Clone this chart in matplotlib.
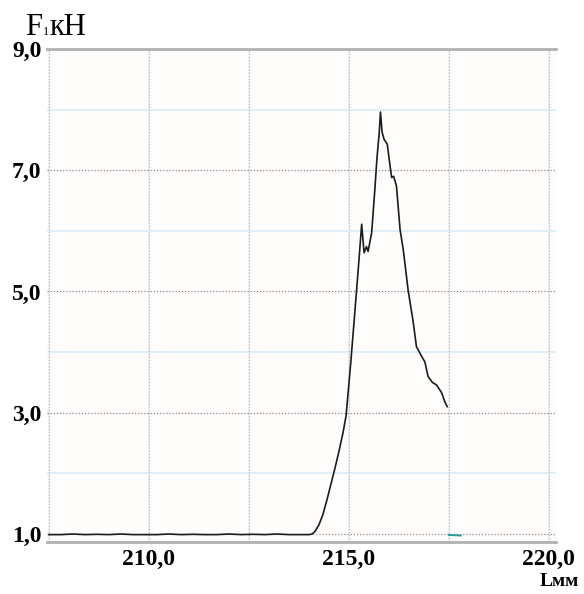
import matplotlib
matplotlib.use("Agg")
import matplotlib.pyplot as plt

# ---- data ----
base_x = [207.5, 207.8, 208.1, 208.4, 208.7, 209.0, 209.3, 209.6, 209.9, 210.2,
          210.5, 210.8, 211.1, 211.4, 211.7, 212.0, 212.3, 212.6, 212.9, 213.2,
          213.5, 213.8, 214.0]
base_y = [0.99, 0.99, 1.00, 0.99, 0.995, 0.99, 1.00, 0.99, 0.99, 0.99,
          1.00, 0.99, 0.995, 0.99, 0.99, 1.00, 0.99, 0.995, 0.99, 1.00,
          0.99, 0.99, 0.99]
peak_x = [214.08, 214.15, 214.25, 214.35, 214.45, 214.55, 214.65, 214.75, 214.85,
          214.93, 215.05, 215.15, 215.25, 215.32, 215.38, 215.44, 215.48,
          215.57, 215.65, 215.70, 215.76, 215.79, 215.83, 215.88, 215.96, 216.03,
          216.07, 216.12, 216.19, 216.28, 216.36, 216.48, 216.61, 216.69, 216.82,
          216.90, 216.98, 217.09, 217.19, 217.32, 217.40, 217.46]
peak_y = [1.00, 1.04, 1.15, 1.32, 1.56, 1.82, 2.08, 2.36, 2.66,
          2.95, 3.85, 4.67, 5.50, 6.11, 5.64, 5.74, 5.66,
          5.97, 6.69, 7.18, 7.63, 7.96, 7.63, 7.51, 7.43, 7.07,
          6.88, 6.90, 6.74, 6.02, 5.69, 5.03, 4.49, 4.09, 3.93,
          3.84, 3.60, 3.50, 3.46, 3.33, 3.18, 3.10]
teal_x = [217.5, 217.8]
teal_y = [0.985, 0.975]

x_ticks = [210.0, 215.0, 220.0]
x_labels = ["210,0", "215,0", "220,0"]
y_ticks = [1.0, 3.0, 5.0, 7.0, 9.0]
y_labels = ["1,0", "3,0", "5,0", "7,0", "9,0"]
minor_y = [2.0, 4.0, 6.0, 8.0]
vert_grid = [207.5, 210.0, 212.5, 215.0, 217.5, 220.0]

serif = ["Liberation Serif", "DejaVu Serif"]

fig = plt.figure(figsize=(5.84, 5.94), dpi=100)
ax = fig.add_axes([47/584, 52/594, 509/584, 493/594])
ax.set_facecolor("#fffdfc")
ax.set_xlim(207.45, 220.18)
ax.set_ylim(0.868, 9.0)

for yv in minor_y:
    ax.axhline(yv, color="#dcedf6", lw=1.3, zorder=1)
for xv in vert_grid:
    ax.axvline(xv, color="#e6f0f5", lw=1.2, zorder=1)
    ax.axvline(xv, color="#bdbdbd", lw=0.9, ls=(0, (1, 1.5)), zorder=1.5)
for yv in y_ticks[:-1]:
    ax.axhline(yv, color="#8a8a8a", lw=0.9, ls=(0, (1, 1.5)), zorder=1.5)

ax.plot(base_x + peak_x, base_y + peak_y, color="#1c1c1c", lw=1.2, zorder=3)
ax.plot(teal_x, teal_y, color="#2a9d9d", lw=1.4, zorder=3)

for s in ["left", "right"]:
    ax.spines[s].set_visible(False)
for s in ["top", "bottom"]:
    ax.spines[s].set_color("#b0b0b0")
    ax.spines[s].set_linewidth(2.0)

ax.set_xticks(x_ticks)
ax.set_xticklabels(x_labels, fontfamily=serif, fontweight="bold", fontsize=17)
ax.set_yticks(y_ticks)
ax.set_yticklabels(y_labels, fontfamily=serif, fontweight="bold", fontsize=17)
ax.tick_params(axis="both", length=0)
ax.tick_params(axis="x", pad=5)
ax.tick_params(axis="y", pad=4)

# axis titles
fig.text(25/584, 1 - 35/594, "F", fontfamily=serif, fontsize=22, va="baseline", ha="left")
fig.text(43/584, 1 - 35/594, "1", fontfamily=serif, fontsize=9, va="baseline", ha="left")
fig.text(49/584, 1 - 35/594, "кН", fontfamily=serif, fontsize=22, va="baseline", ha="left")
fig.text(579/584, 1 - 586/594, "Lмм", fontfamily=serif, fontsize=14, fontweight="bold",
         va="baseline", ha="right")

fig.savefig("out.png", dpi=100)
